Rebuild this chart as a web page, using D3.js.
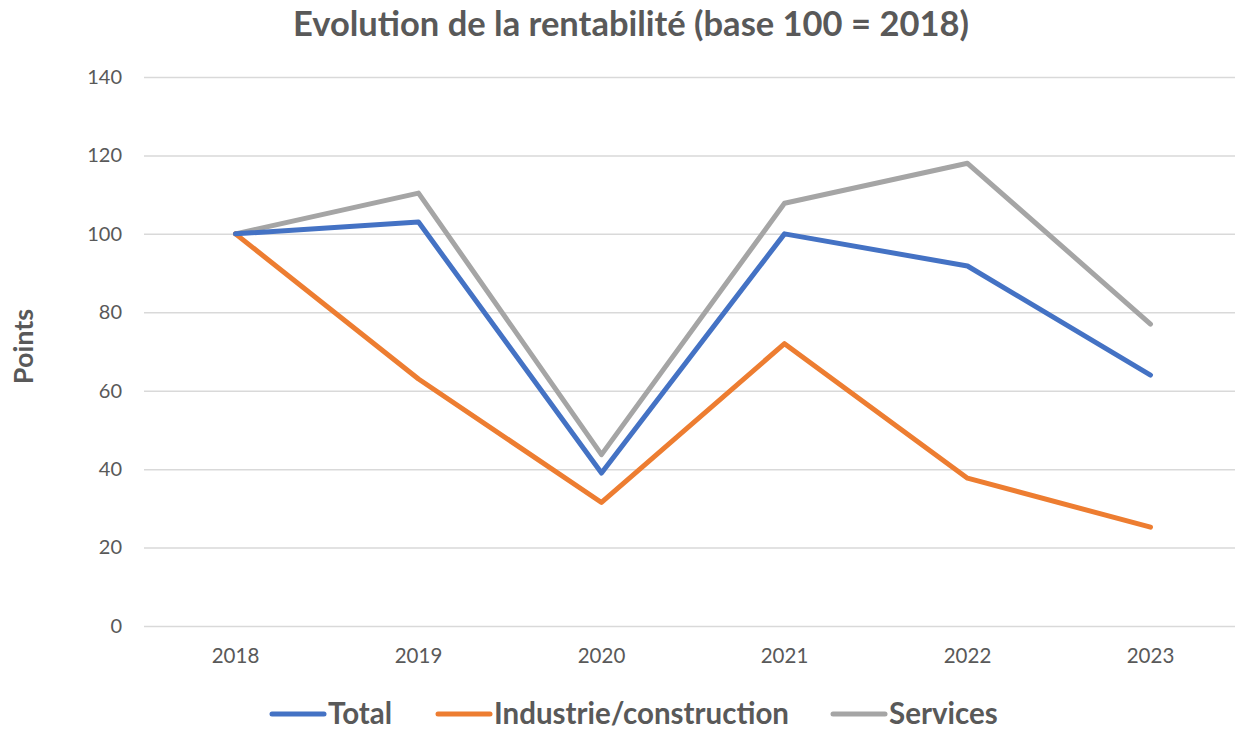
<!DOCTYPE html>
<html>
<head>
<meta charset="utf-8">
<script src="https://cdn.jsdelivr.net/npm/d3@7"></script>
<style>
  body { margin: 0; background: #fff; }
  text { font-family: Lato, "Open Sans", sans-serif; fill: #595959; }
</style>
</head>
<body>
<div id="chart-area"></div>
<script>
const years = ['2018', '2019', '2020', '2021', '2022', '2023']
const total = [100, 103, 39, 100, 91.8, 64]
const industrie = [100, 63, 31.5, 72, 37.7, 25.2]
const services = [100, 110.4, 43.7, 107.8, 118, 77]
const yTicks = [0, 20, 40, 60, 80, 100, 120, 140]

const MARGIN = { LEFT: 144, RIGHT: 10, TOP: 77, BOTTOM: 103 }
const WIDTH = 1248 - MARGIN.LEFT - MARGIN.RIGHT
const HEIGHT = 729 - MARGIN.TOP - MARGIN.BOTTOM

const series = [
  { name: 'Total', values: total, color: '#4472C4' },
  { name: 'Industrie/construction', values: industrie, color: '#ED7D31' },
  { name: 'Services', values: services, color: '#A5A5A5' }
]

const svg = d3.select('#chart-area').append('svg')
  .attr('width', 1248)
  .attr('height', 729)

const g = svg.append('g')
  .attr('transform', `translate(${MARGIN.LEFT}, ${MARGIN.TOP})`)

// title
svg.append('text')
  .attr('x', 631)
  .attr('y', 36)
  .attr('text-anchor', 'middle')
  .attr('font-size', '34.5px')
  .attr('font-weight', '700')
  .text('Evolution de la rentabilité (base 100 = 2018)')

// y label
g.append('text')
  .attr('x', -(HEIGHT / 2) + 5)
  .attr('y', -111)
  .attr('text-anchor', 'middle')
  .attr('font-size', '27px')
  .attr('font-weight', '700')
  .attr('transform', 'rotate(-90)')
  .text('Points')

const x = d3.scaleBand()
  .domain(years)
  .range([0, 1098])

const y = d3.scaleLinear()
  .domain([0, 140])
  .range([HEIGHT, 0])

// grid + y axis
const yAxisCall = d3.axisLeft(y)
  .tickValues(yTicks)
  .tickSize(-1091)
  .tickPadding(22)
g.append('g')
  .attr('class', 'y-axis')
  .call(yAxisCall)
  .call(a => a.select('.domain').remove())
  .call(a => a.selectAll('line').attr('stroke', '#D9D9D9').attr('stroke-width', 1.5))
  .call(a => a.selectAll('text').attr('font-size', '20px').attr('fill', '#595959')
    .style('font-family', 'Lato, "Open Sans", sans-serif'))

const xAxisCall = d3.axisBottom(x).tickSize(0).tickPadding(22)
g.append('g')
  .attr('class', 'x-axis')
  .attr('transform', `translate(0, ${HEIGHT})`)
  .call(xAxisCall)
  .call(a => a.select('.domain').remove())
  .call(a => a.selectAll('text').attr('font-size', '20.5px').attr('fill', '#595959')
    .style('font-family', 'Lato, "Open Sans", sans-serif'))

const line = d3.line()
  .x((d, i) => x(years[i]) + x.bandwidth() / 2)
  .y(d => y(d))

series.slice().reverse().forEach(s => {
  g.append('path')
    .datum(s.values)
    .attr('fill', 'none')
    .attr('stroke', s.color)
    .attr('stroke-width', 5)
    .attr('stroke-linejoin', 'round')
    .attr('stroke-linecap', 'round')
    .attr('d', line)
})

// legend
const legend = svg.append('g').attr('transform', 'translate(0, 714)')
const legendX = [272, 438, 833]
series.forEach((s, i) => {
  legend.append('line')
    .attr('x1', legendX[i]).attr('x2', legendX[i] + 52)
    .attr('y1', 0).attr('y2', 0)
    .attr('stroke', s.color)
    .attr('stroke-width', 5)
    .attr('stroke-linecap', 'round')
  legend.append('text')
    .attr('x', legendX[i] + 56)
    .attr('y', 10)
    .attr('font-size', '29.5px')
    .attr('font-weight', '700')
    .text(s.name)
})
</script>
</body>
</html>
